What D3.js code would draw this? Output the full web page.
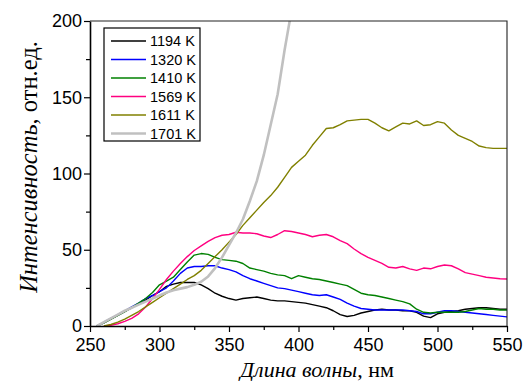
<!DOCTYPE html>
<html>
<head>
<meta charset="utf-8">
<script src="https://cdn.jsdelivr.net/npm/d3@7"></script>
<style>
  body { margin: 0; background: #fff; }
  svg { display: block; }
</style>
</head>
<body>
<div id="chart"></div>
<script>
const SVG_WIDTH = 523;
const SVG_HEIGHT = 381;

// wavelength, nm
const wavelengths = [
  255, 260, 265, 270, 275, 280, 285, 290, 295, 300,
  305, 310, 315, 320, 325, 330, 335, 340, 345, 350,
  355, 360, 365, 370, 375, 380, 385, 390, 395, 400,
  405, 410, 415, 420, 425, 430, 435, 440, 445, 450,
  455, 460, 465, 470, 475, 480, 485, 490, 495, 500,
  505, 510, 515, 520, 525, 530, 535, 540, 545, 550,
];

const intensity1194 = [
  0, 2, 4.5, 7, 9.5, 12, 14.5, 17, 20, 22.5,
  26, 27.5, 28.5, 28.5, 28.5, 27, 24.5, 21.5, 19.5, 18,
  17, 18, 18.5, 19, 18, 17, 16.5, 16.5, 16, 15.5,
  15, 14, 13, 12, 10, 7.5, 6.2, 7, 8.5, 9.5,
  10.5, 11, 10.5, 10.5, 10, 10, 9, 6.5, 5.5, 8,
  9, 9.5, 10, 11, 11.5, 12, 12, 11.5, 11, 11,
];
const intensity1320 = [
  0, 2.5, 5, 7.5, 10, 12.5, 15, 18, 20, 22.5,
  25, 29.5, 34.5, 38, 39, 39, 39.5, 39.5, 38, 37,
  35.5, 33, 31, 29.5, 28, 26.5, 25, 24.5, 23.5, 22.5,
  21.5, 20.5, 20, 20.5, 19, 17.5, 15, 13, 11.5, 11,
  10.5, 10.5, 10.5, 10.5, 10.5, 10, 9.5, 8, 8, 9,
  10, 10, 9.5, 9, 8.5, 8, 7.5, 7, 6.5, 6,
];
const intensity1410 = [
  0, 2, 4.5, 7, 9.5, 12, 15, 18, 22, 27,
  29.5, 32, 37, 42, 46.5, 47.5, 47, 45, 43.5, 43,
  42.5, 41, 38, 37, 36, 34.5, 33.5, 33, 31, 33,
  32, 31, 30.5, 29.5, 28.5, 27.5, 26.5, 24, 21.5, 20.5,
  20, 19, 18, 17, 16, 14.5, 11, 9, 8.5, 9,
  9, 9, 9, 9.5, 10.5, 11.5, 11, 11, 10.5, 10.5,
];
const intensity1569 = [
  null, 0, 0.5, 1.5, 3, 5, 8, 12.5, 18, 24,
  30.5, 36, 41, 45.5, 49.5, 52.5, 55.5, 58, 59.5, 60,
  61.5, 61, 61, 60.5, 59, 58, 60, 62.5, 62, 61,
  60, 58.5, 59.5, 60, 58.5, 56, 54, 50.5, 47.5, 45,
  43, 41, 38.5, 38, 39, 37.5, 36.5, 38, 37.5, 39,
  40, 39.5, 37.5, 35, 34, 33, 32, 31.5, 31, 30.8,
];
const intensity1611 = [
  null, 0, 1, 2.5, 4.5, 7, 9.5, 12.5, 15.5, 18.5,
  21.5, 24.5, 27.5, 30.5, 33, 36.5, 41, 45.5, 50, 55,
  60, 66, 71, 76, 81, 85.5, 91, 97.5, 104, 108,
  112, 118.5, 124, 129.5, 130, 132, 134.5, 135, 135.5, 135.5,
  133, 130, 128, 130.5, 133, 132.5, 134.5, 131.5, 132, 134,
  133, 128.5, 125, 123, 121, 118, 117, 116.5, 116.5, 116.5,
];
// runs off the top of the plot after ~394 nm
const intensity1701 = [
  0, 2.5, 5, 7.5, 10, 12, 14, 16, 18, 20,
  22, 23.5, 24.5, 25.5, 27, 29, 32.5, 38, 45, 53,
  61, 70, 82, 95, 112, 132, 152, 181, 207,
];

const seriesLabels = ['1194 K', '1320 K', '1410 K', '1569 K', '1611 K', '1701 K'];
const seriesValues = [intensity1194, intensity1320, intensity1410,
                      intensity1569, intensity1611, intensity1701];
const seriesColors = ['#000000', '#0000ff', '#008000', '#ff0080', '#808000', '#c0c0c0'];
const seriesWidths = [1.4, 1.4, 1.4, 1.4, 1.4, 2.6];

const xTicks = [250, 300, 350, 400, 450, 500, 550];
const yTicks = [0, 50, 100, 150, 200];

const margin = {top: 21, right: 16, bottom: 55, left: 90};
const width = SVG_WIDTH - margin.left - margin.right;
const height = SVG_HEIGHT - margin.top - margin.bottom;

const xScale = d3.scaleLinear().domain([250, 550]).range([0, width]);
const yScale = d3.scaleLinear().domain([0, 200]).range([height, 0]);

const svg = d3.select('#chart')
              .append('svg')
              .attr('width', SVG_WIDTH)
              .attr('height', SVG_HEIGHT);
const g = svg.append('g')
             .attr('transform', 'translate(' + margin.left + ',' + margin.top + ')');

/**
 * Draw one line per temperature, clipped to the plot box.
 */
function drawLines() {
  g.append('clipPath')
   .attr('id', 'plot-clip')
   .append('rect')
   .attr('width', width)
   .attr('height', height);
  const line = d3.line()
                 .x((d) => xScale(d[0]))
                 .y((d) => yScale(d[1]));
  const series = seriesValues.map((values) =>
      values.map((v, i) => [wavelengths[i], v]).filter((d) => d[1] != null));
  g.append('g')
   .attr('clip-path', 'url(#plot-clip)')
   .selectAll('path')
   .data(series)
   .enter()
   .append('path')
   .attr('fill', 'none')
   .attr('stroke', (d, i) => seriesColors[i])
   .attr('stroke-width', (d, i) => seriesWidths[i])
   .attr('stroke-linejoin', 'round')
   .attr('d', line);
}

/**
 * Axes with outward ticks, minor ticks halfway, plus the top/right frame.
 */
function drawAxes() {
  const xMinor = d3.range(275, 550, 50);
  const yMinor = d3.range(25, 200, 50);
  const xAxis = g.append('g')
                 .attr('transform', 'translate(0,' + height + ')')
                 .call(d3.axisBottom(xScale).tickValues(xTicks)
                         .tickSize(6).tickSizeOuter(0).tickPadding(6));
  g.append('g')
   .attr('transform', 'translate(0,' + height + ')')
   .call(d3.axisBottom(xScale).tickValues(xMinor).tickSize(4)
           .tickSizeOuter(0).tickFormat(''))
   .select('.domain').remove();
  const yAxis = g.append('g')
                 .call(d3.axisLeft(yScale).tickValues(yTicks)
                         .tickSize(6).tickSizeOuter(0).tickPadding(2));
  g.append('g')
   .call(d3.axisLeft(yScale).tickValues(yMinor).tickSize(4)
           .tickSizeOuter(0).tickFormat(''))
   .select('.domain').remove();
  g.selectAll('.tick line').attr('stroke', '#000').attr('stroke-width', 1.2);
  g.selectAll('.domain').attr('stroke', '#000').attr('stroke-width', 1.6);
  [xAxis, yAxis].forEach((a) => a.selectAll('text')
      .attr('fill', '#000')
      .style('font-family', '"Liberation Sans", Arial, sans-serif')
      .style('font-size', '18px'));
  g.append('path')
   .attr('d', 'M0,0H' + width + 'V' + height)
   .attr('fill', 'none')
   .attr('stroke', '#222')
   .attr('stroke-width', 1.1);
}

function drawTitles() {
  const serif = '"Liberation Serif", "Times New Roman", serif';
  const xTitle = svg.append('text')
                    .attr('x', 317)
                    .attr('y', 377)
                    .attr('text-anchor', 'middle')
                    .style('font-family', serif)
                    .style('font-size', '22px');
  xTitle.append('tspan').style('font-style', 'italic').text('Длина волны');
  xTitle.append('tspan').text(', нм');
  const yTitle = svg.append('text')
                    .attr('transform', 'translate(37,167) rotate(-90)')
                    .attr('text-anchor', 'middle')
                    .style('font-family', serif)
                    .style('font-size', '24.5px');
  yTitle.append('tspan').style('font-style', 'italic').text('Интенсивность');
  yTitle.append('tspan').text(', отн.ед.');
}

function drawLegend() {
  const left = 14;
  const top = 7;
  const rowHeight = 18.5;
  const legend = g.append('g')
                  .attr('transform', 'translate(' + left + ',' + top + ')');
  legend.append('rect')
        .attr('width', 96)
        .attr('height', 113)
        .attr('fill', '#fff')
        .attr('stroke', '#000')
        .attr('stroke-width', 1.2);
  const item = legend.selectAll('g')
                     .data(seriesLabels)
                     .enter()
                     .append('g')
                     .attr('transform', (d, i) => 'translate(0,' + (13 + i * rowHeight) + ')');
  item.append('line')
      .attr('x1', 7)
      .attr('x2', 42)
      .attr('stroke', (d, i) => seriesColors[i])
      .attr('stroke-width', (d, i) => seriesWidths[i]);
  item.append('text')
      .attr('x', 46)
      .attr('dy', '0.36em')
      .style('font-family', '"Liberation Sans", Arial, sans-serif')
      .style('font-size', '14.5px')
      .text((d) => d);
}

drawLines();
drawAxes();
drawLegend();
drawTitles();
</script>
</body>
</html>
